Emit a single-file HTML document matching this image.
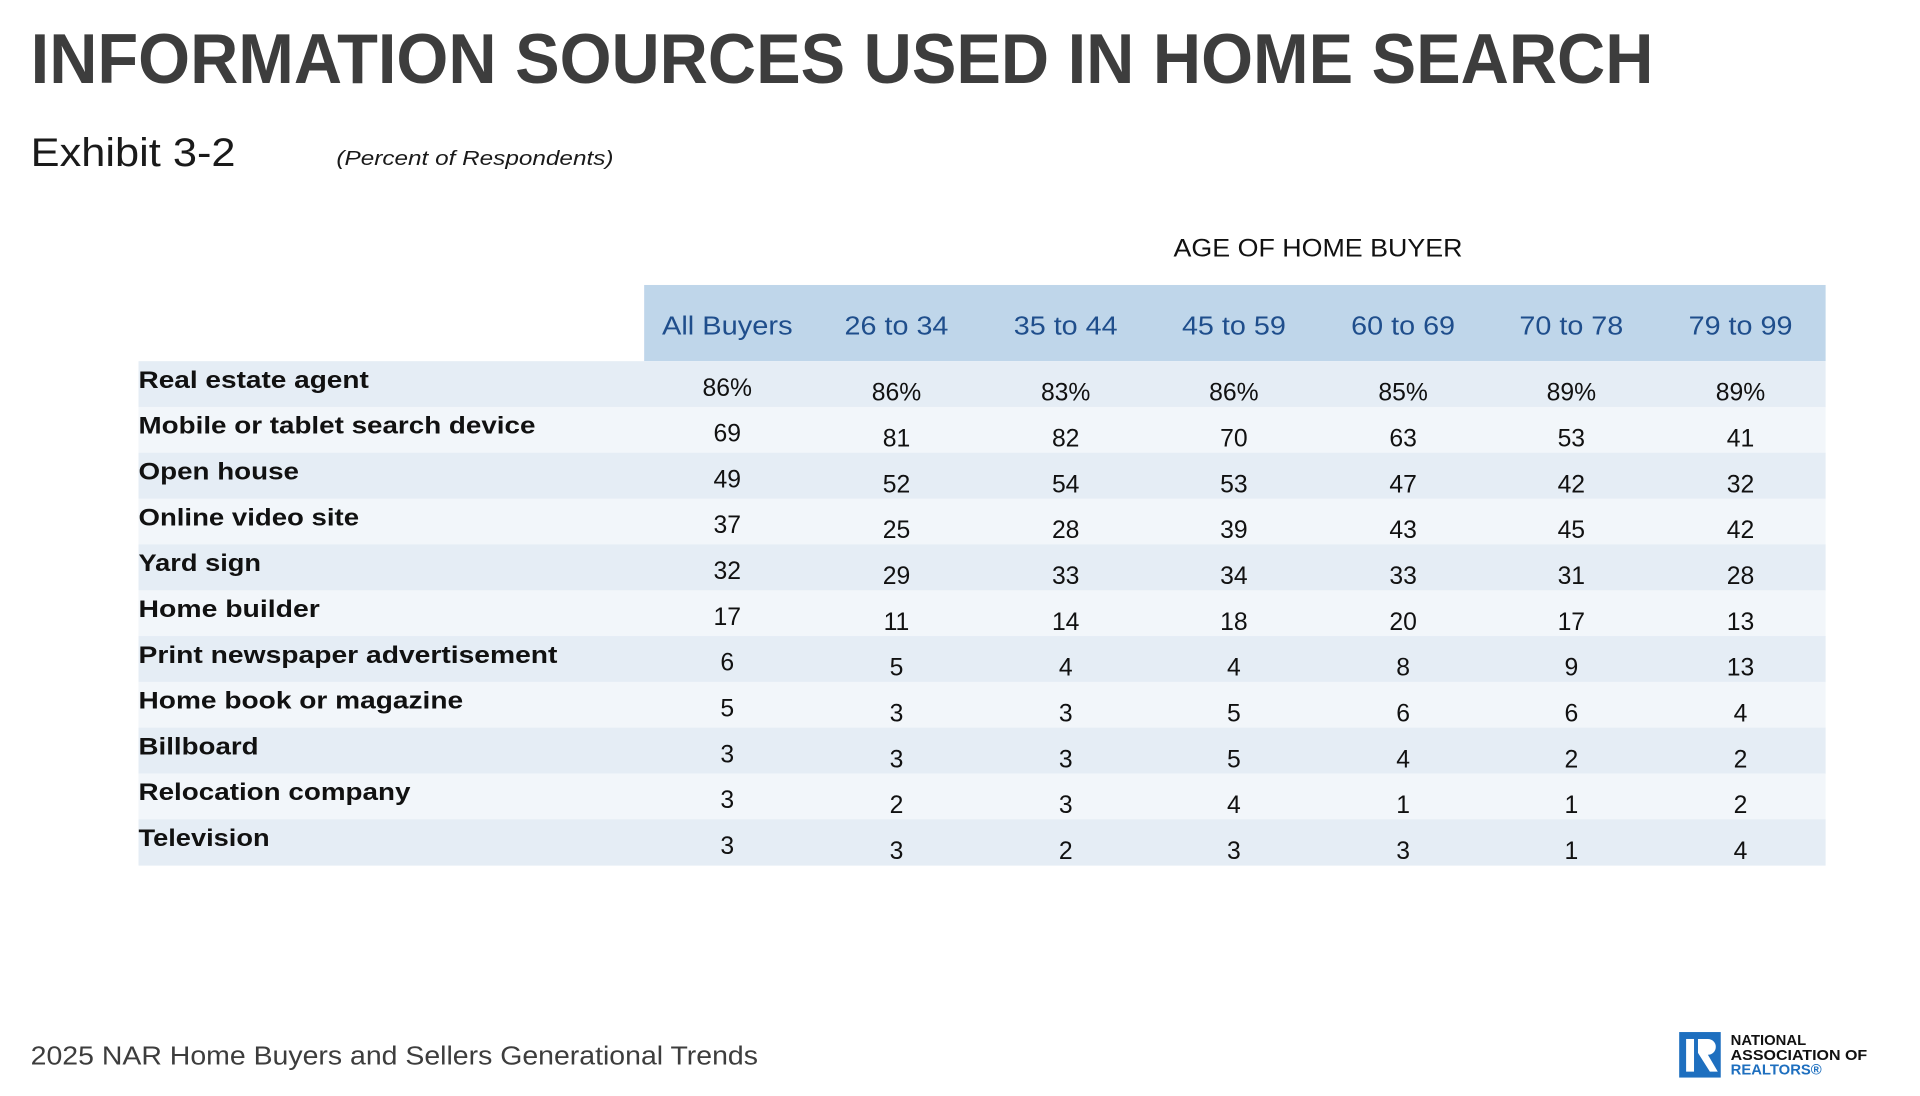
<!DOCTYPE html>
<html><head><meta charset="utf-8"><style>
html,body{margin:0;padding:0;background:#fff;}
svg{display:block;font-family:"Liberation Sans",sans-serif;}
</style></head><body>
<svg width="1920" height="1096" viewBox="0 0 1920 1096" xmlns="http://www.w3.org/2000/svg">
<g transform="scale(0.9895)">
<text x="31" y="84" font-size="71" font-weight="bold" fill="#3d3d3d" textLength="1640" lengthAdjust="spacingAndGlyphs">INFORMATION SOURCES USED IN HOME SEARCH</text>
<text x="31" y="168" font-size="40" fill="#1a1a1a" textLength="207" lengthAdjust="spacingAndGlyphs">Exhibit 3-2</text>
<text x="340" y="167" font-size="21" font-style="italic" fill="#1a1a1a" textLength="280" lengthAdjust="spacingAndGlyphs">(Percent of Respondents)</text>
<text x="1332" y="259" font-size="25" fill="#111" text-anchor="middle" textLength="292" lengthAdjust="spacingAndGlyphs">AGE OF HOME BUYER</text>
<rect x="651" y="288" width="1194" height="77" fill="#bfd6ea"/>
<g font-size="26" fill="#1f4e8c" text-anchor="middle">
<text x="735" y="338" textLength="132" lengthAdjust="spacingAndGlyphs">All Buyers</text><text x="906" y="338" textLength="105" lengthAdjust="spacingAndGlyphs">26 to 34</text><text x="1077" y="338" textLength="105" lengthAdjust="spacingAndGlyphs">35 to 44</text><text x="1247" y="338" textLength="105" lengthAdjust="spacingAndGlyphs">45 to 59</text><text x="1418" y="338" textLength="105" lengthAdjust="spacingAndGlyphs">60 to 69</text><text x="1588" y="338" textLength="105" lengthAdjust="spacingAndGlyphs">70 to 78</text><text x="1759" y="338" textLength="105" lengthAdjust="spacingAndGlyphs">79 to 99</text>
</g>
<g id="rows"></g>
<text x="31" y="1076" font-size="26" fill="#3d3d3d" textLength="735" lengthAdjust="spacingAndGlyphs">2025 NAR Home Buyers and Sellers Generational Trends</text>
<rect x="1697" y="1043" width="42" height="46" fill="#1e6fbf"/>
<rect x="1704" y="1050" width="8" height="33" fill="#fff"/>
<path d="M1716 1050 h10 a8 8 0 0 1 0 16 l10 17 h-8 l-12 -19z" fill="#fff"/>
<g font-size="15" font-weight="bold">
<text x="1749" y="1056" fill="#111">NATIONAL</text>
<text x="1749" y="1071" fill="#111" textLength="138" lengthAdjust="spacingAndGlyphs">ASSOCIATION OF</text>
<text x="1749" y="1086" fill="#1e6fbf">REALTORS®</text>
</g>
</g>
</svg>
<script>
var rows=[["Real estate agent","86%","86%","83%","86%","85%","89%","89%"],
["Mobile or tablet search device","69","81","82","70","63","53","41"],
["Open house","49","52","54","53","47","42","32"],
["Online video site","37","25","28","39","43","45","42"],
["Yard sign","32","29","33","34","33","31","28"],
["Home builder","17","11","14","18","20","17","13"],
["Print newspaper advertisement","6","5","4","4","8","9","13"],
["Home book or magazine","5","3","3","5","6","6","4"],
["Billboard","3","3","3","5","4","2","2"],
["Relocation company","3","2","3","4","1","1","2"],
["Television","3","3","2","3","3","1","4"]];
var lw=[188,324,131,180,100,148,342,265,98,222,107];
var cx=[735,906,1077,1247,1418,1588,1759],s="",h=46.3;
rows.forEach(function(r,i){var t=365+i*h;
s+='<rect x="140" y="'+t+'" width="1705" height="'+(h+0.5)+'" fill="'+(i%2?'#f2f6fa':'#e5edf5')+'"/>';
s+='<text x="140" y="'+(t+27)+'" font-size="24" font-weight="bold" fill="#111" textLength="'+(lw[i]*1.238)+'" lengthAdjust="spacingAndGlyphs">'+r[0]+'</text>';
for(var j=1;j<8;j++)s+='<text x="'+cx[j-1]+'" y="'+(t+(j==1?35:40))+'" font-size="25" fill="#111" text-anchor="middle">'+r[j]+'</text>';});
document.getElementById("rows").innerHTML=s;
</script>
</body></html>
